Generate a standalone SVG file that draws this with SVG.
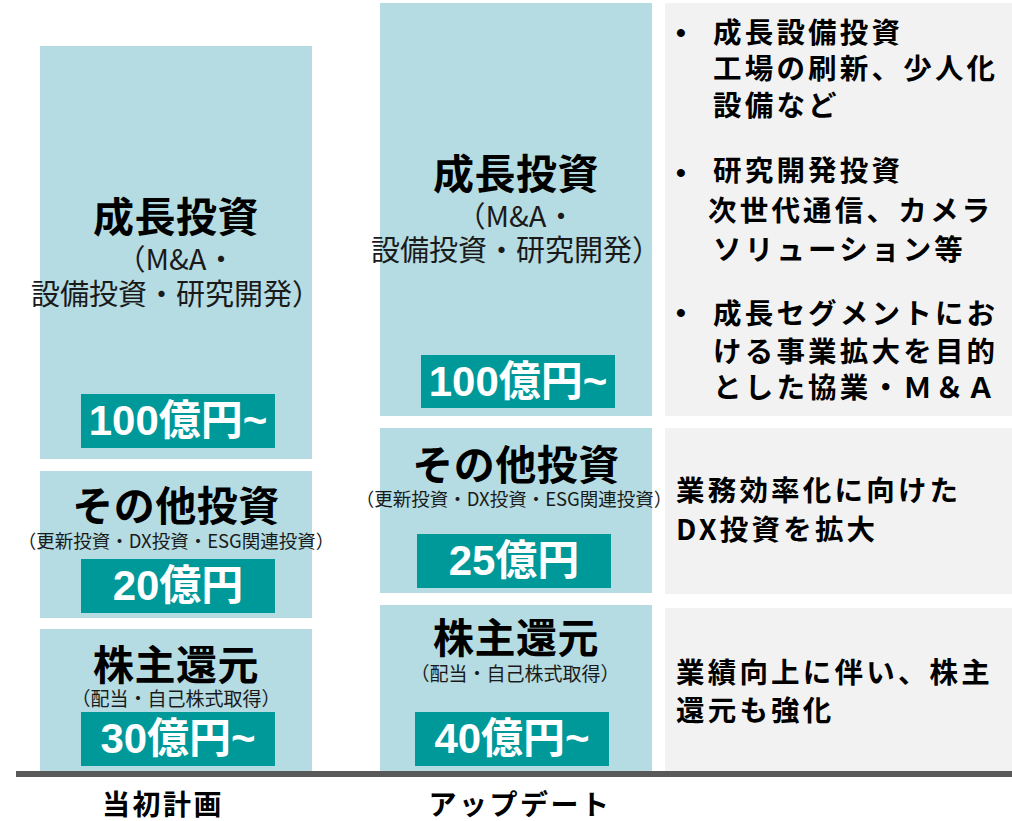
<svg xmlns="http://www.w3.org/2000/svg" width="1012" height="821" viewBox="0 0 1012 821">
<style>
.bar{fill:#b4dce2}
.note{fill:#f2f2f2}
.tag{fill:#009999}
.ttl{font-family:"Noto Sans CJK JP",sans-serif;font-weight:700;font-size:41px;fill:#000;text-anchor:middle;letter-spacing:0.5px}
.sub{font-family:"Noto Sans CJK JP",sans-serif;font-weight:400;font-size:29px;fill:#1a1a1a;text-anchor:middle}
.sub2{font-family:"Noto Sans CJK JP",sans-serif;font-weight:400;font-size:18.5px;fill:#1a1a1a;text-anchor:middle}
.sub3{font-family:"Noto Sans CJK JP",sans-serif;font-weight:400;font-size:19px;fill:#1a1a1a;text-anchor:middle}
.amt{font-family:"Liberation Sans","Noto Sans CJK JP",sans-serif;font-weight:700;font-size:42px;fill:#fff;text-anchor:middle}
.txt{font-family:"Noto Sans CJK JP",sans-serif;font-weight:700;font-size:28.5px;fill:#000;letter-spacing:3.2px}
.bul{font-family:"Liberation Sans",sans-serif;font-weight:700;font-size:28px;fill:#000;text-anchor:middle}
.lbl{font-family:"Noto Sans CJK JP",sans-serif;font-weight:700;font-size:28px;fill:#000;text-anchor:middle;letter-spacing:2.5px}
</style>

<g id="plan-growth">
<rect class="bar" x="40" y="46" width="272" height="413"/>
<text class="ttl" x="176" y="232">成長投資</text>
<text class="sub" x="176" y="270">（M&amp;A・</text>
<text class="sub" x="176" y="305">設備投資・研究開発）</text>
<rect class="tag" x="81" y="394" width="194" height="54"/>
<text class="amt" x="178" y="435">100億円~</text>
</g>

<g id="plan-other">
<rect class="bar" x="40" y="471" width="272" height="147"/>
<text class="ttl" x="176" y="521">その他投資</text>
<text class="sub2" x="176" y="548">（更新投資・DX投資・ESG関連投資）</text>
<rect class="tag" x="81" y="559" width="194" height="54"/>
<text class="amt" x="178" y="600">20億円</text>
</g>

<g id="plan-return">
<rect class="bar" x="40" y="629" width="272" height="142"/>
<text class="ttl" x="176" y="680">株主還元</text>
<text class="sub3" x="176" y="706">（配当・自己株式取得）</text>
<rect class="tag" x="81" y="712" width="194" height="54"/>
<text class="amt" x="178" y="753">30億円~</text>
</g>

<g id="upd-growth">
<rect class="bar" x="380" y="3" width="272" height="413"/>
<text class="ttl" x="516" y="189">成長投資</text>
<text class="sub" x="516" y="227">（M&amp;A・</text>
<text class="sub" x="516" y="261">設備投資・研究開発）</text>
<rect class="tag" x="421" y="355" width="194" height="53"/>
<text class="amt" x="518" y="396">100億円~</text>
</g>

<g id="upd-other">
<rect class="bar" x="380" y="428" width="272" height="165"/>
<text class="ttl" x="516" y="480">その他投資</text>
<text class="sub2" x="514" y="506">（更新投資・DX投資・ESG関連投資）</text>
<rect class="tag" x="417" y="534" width="194" height="54"/>
<text class="amt" x="514" y="575">25億円</text>
</g>

<g id="upd-return">
<rect class="bar" x="380" y="605" width="272" height="166"/>
<text class="ttl" x="516" y="653">株主還元</text>
<text class="sub3" x="515" y="681">（配当・自己株式取得）</text>
<rect class="tag" x="415" y="712" width="194" height="54"/>
<text class="amt" x="512" y="753">40億円~</text>
</g>

<g id="note-growth">
<rect class="note" x="665" y="3" width="347" height="413"/>
<text class="bul" x="681" y="42">•</text>
<text class="txt" x="713" y="43">成長設備投資</text>
<text class="txt" x="713" y="79">工場の刷新、少人化</text>
<text class="txt" x="713" y="116">設備など</text>
<text class="bul" x="681" y="182">•</text>
<text class="txt" x="713" y="181">研究開発投資</text>
<text class="txt" x="708" y="221">次世代通信、カメラ</text>
<text class="txt" x="713" y="260">ソリューション等</text>
<text class="bul" x="681" y="322">•</text>
<text class="txt" x="713" y="324">成長セグメントにお</text>
<text class="txt" x="713" y="362">ける事業拡大を目的</text>
<text class="txt" x="713" y="398">とした協業・Ｍ＆Ａ</text>
</g>

<g id="note-other">
<rect class="note" x="665" y="428" width="347" height="166"/>
<text class="txt" x="676" y="501">業務効率化に向けた</text>
<text class="txt" x="676" y="540">DX投資を拡大</text>
</g>

<g id="note-return">
<rect class="note" x="665" y="608" width="347" height="163"/>
<text class="txt" x="676" y="683">業績向上に伴い、株主</text>
<text class="txt" x="676" y="721">還元も強化</text>
</g>

<g id="connectors">
<rect x="16" y="771" width="996" height="6" fill="#595959"/>
</g>

<g id="axis-labels">
<text class="lbl" x="163" y="815">当初計画</text>
<text class="lbl" x="520" y="815">アップデート</text>
</g>
</svg>
